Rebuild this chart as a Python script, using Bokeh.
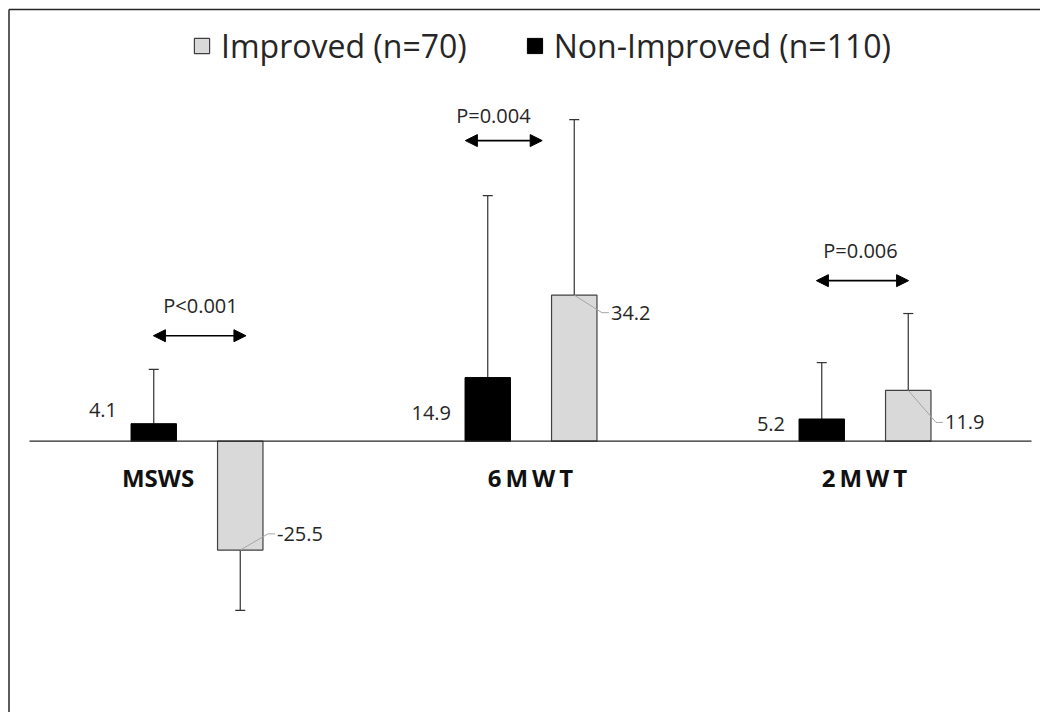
from bokeh.plotting import figure
from bokeh.models import Range1d, Arrow, NormalHead, Legend, LegendItem
from bokeh.core.properties import value
from bokeh.embed import file_html
from bokeh.resources import INLINE

# ---- data ----
categories = ["MSWS", "6MWT", "2MWT"]
cat_labels = ["MSWS", "6\u2009M\u2009W\u2009T", "2\u2009M\u2009W\u2009T"]
nonimp_mean = [4.1, 14.9, 5.2]
nonimp_sd = [12.7, 42.6, 13.2]
imp_mean = [-25.5, 34.2, 11.9]
imp_sd = [14.1, 41.1, 18.0]
p_labels = ["P<0.001", "P=0.004", "P=0.006"]

# ---- layout / style ----
W, H = 1040, 712
PX_X = 334.0          # pixels per category
PX_Y = 4.27           # pixels per unit
ZERO_PX = 440.7       # zero line, px from top of canvas
LEFT_PX = 29.0        # start of category axis, px from left of canvas
x_start = -LEFT_PX / PX_X
x_end = x_start + W / PX_X
y_end = ZERO_PX / PX_Y
y_start = y_end - H / PX_Y

off_ni, off_i, bw = -0.128, 0.131, 0.136
centers = [i + 0.5 for i in range(len(categories))]
x_ni = [c + off_ni for c in centers]
x_i = [c + off_i for c in centers]

ni_label_y = [7.2, 6.5, 4.1]
i_label_y = [-21.7, 30.1, 4.4]
cat_label_dx = [-0.115, 0.0, 0.0]
cat_label_y = -8.5
arrow_x0 = [0.371, 1.305, 2.356]
arrow_x1 = [0.648, 1.535, 2.632]
arrow_y = [24.7, 70.4, 37.6]
ptext_x = [0.512, 1.389, 2.488]
ptext_y = [31.8, 76.3, 44.7]

TXT = "#262626"
FONT = value("Open Sans")

p = figure(width=W, height=H, x_range=Range1d(x_start, x_end),
           y_range=Range1d(y_start, y_end), output_backend="svg",
           toolbar_location=None, min_border=0,
           x_axis_location=None, y_axis_location=None)
p.grid.visible = False
p.outline_line_color = None
p.background_fill_color = "white"

# chart-area border lines (top and left)
bx = x_start + 8.5 / PX_X
by = y_end - 9.0 / PX_Y
p.segment(x0=[bx, bx], y0=[by, by], x1=[x_end, bx], y1=[by, y_start],
          line_color="#262626", line_width=1.5)

# error bars (one-sided)
def tips(means, sds):
    return [m + (s if m >= 0 else -s) for m, s in zip(means, sds)]

ni_tip = tips(nonimp_mean, nonimp_sd)
i_tip = tips(imp_mean, imp_sd)
for xs, ms, ts in ((x_ni, nonimp_mean, ni_tip), (x_i, imp_mean, i_tip)):
    p.segment(x0=xs, y0=ms, x1=xs, y1=ts, line_color="#333333", line_width=1.2)
    p.scatter(x=xs, y=ts, marker="dash", size=10, line_color="#333333",
              line_width=1.2)

# bars
r_ni = p.vbar(x=x_ni, top=nonimp_mean, bottom=0, width=bw,
              fill_color="black", line_color="black", line_width=1)
r_i = p.vbar(x=x_i, top=imp_mean, bottom=0, width=bw,
             fill_color="#d9d9d9", line_color="#404040", line_width=1.2)

# zero line
p.segment(x0=[0], y0=[0], x1=[len(categories)], y1=[0],
          line_color="#262626", line_width=1.2)

# value labels
bar_right_i = [x + bw / 2 for x in x_i]
bar_left_ni = [x - bw / 2 for x in x_ni]
p.text(x=bar_left_ni, y=ni_label_y, text=[f"{v:.1f}" for v in nonimp_mean],
       x_offset=-14, text_align="right", text_baseline="middle",
       text_font=FONT, text_font_size="20px", text_color=TXT)
p.text(x=bar_right_i, y=i_label_y, text=[f"{v:.1f}" for v in imp_mean],
       x_offset=14, text_align="left", text_baseline="middle",
       text_font=FONT, text_font_size="20px", text_color=TXT)

# leader lines for improved labels
lead_x1 = [x + 5 / PX_X for x in bar_right_i]
lead_x2 = [x + 12 / PX_X for x in bar_right_i]
p.segment(x0=x_i, y0=imp_mean, x1=lead_x1, y1=i_label_y,
          line_color="#a6a6a6", line_width=1)
p.segment(x0=lead_x1, y0=i_label_y, x1=lead_x2, y1=i_label_y,
          line_color="#a6a6a6", line_width=1)

# category labels
p.text(x=[c + d for c, d in zip(centers, cat_label_dx)],
       y=[cat_label_y] * len(categories), text=cat_labels,
       text_align="center", text_baseline="middle", text_font=FONT,
       text_font_size="24px", text_font_style="bold", text_color="#111111")

# p-value arrows
for xa, xb, ya in zip(arrow_x0, arrow_x1, arrow_y):
    p.add_layout(Arrow(x_start=xa, y_start=ya, x_end=xb, y_end=ya,
                       line_color="black", line_width=1.6,
                       start=NormalHead(size=12, fill_color="black", line_color="black"),
                       end=NormalHead(size=12, fill_color="black", line_color="black")))
p.text(x=ptext_x, y=ptext_y, text=p_labels, text_align="center",
       text_baseline="middle", text_font=FONT, text_font_size="20px",
       text_color=TXT)

# legend
legend = Legend(items=[LegendItem(label="Improved (n=70)", renderers=[r_i]),
                       LegendItem(label="Non-Improved (n=110)", renderers=[r_ni])],
                orientation="horizontal", location=(192, 645),
                border_line_color=None, background_fill_alpha=0,
                padding=0, margin=0, spacing=58, label_standoff=10,
                glyph_width=19, glyph_height=19,
                label_text_font="Open Sans", label_text_font_size="32px",
                label_text_color=TXT)
p.add_layout(legend)

open("out.html", "w").write(file_html(p, INLINE))
